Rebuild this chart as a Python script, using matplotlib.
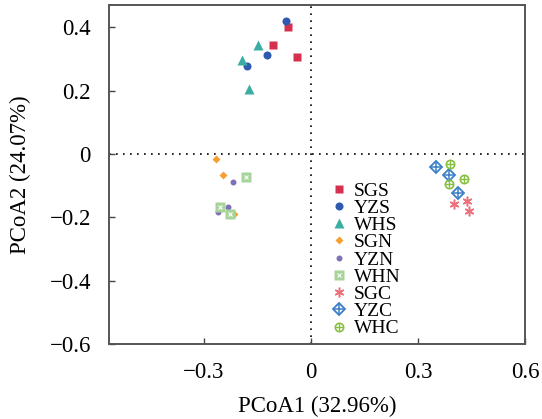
import matplotlib
matplotlib.use("Agg")
import matplotlib.pyplot as plt
from matplotlib.legend_handler import HandlerTuple

plt.rcParams['font.family'] = ['Liberation Serif', 'DejaVu Serif']

groups = ['SGS', 'YZS', 'WHS', 'SGN', 'YZN', 'WHN', 'SGC', 'YZC', 'WHC']

sgs_x = [-0.065, -0.107, -0.039]
sgs_y = [0.402, 0.345, 0.307]
yzs_x = [-0.069, -0.122, -0.179]
yzs_y = [0.419, 0.312, 0.276]
whs_x = [-0.148, -0.193, -0.174]
whs_y = [0.343, 0.295, 0.206]
sgn_x = [-0.264, -0.247, -0.214]
sgn_y = [-0.016, -0.067, -0.189]
yzn_x = [-0.217, -0.232, -0.261]
yzn_y = [-0.089, -0.166, -0.182]
whn_x = [-0.181, -0.253, -0.225]
whn_y = [-0.073, -0.168, -0.189]
sgc_x = [0.400, 0.436, 0.444]
sgc_y = [-0.159, -0.149, -0.180]
yzc_x = [0.351, 0.386, 0.412]
yzc_y = [-0.041, -0.066, -0.122]
whc_x = [0.389, 0.429, 0.388]
whc_y = [-0.031, -0.080, -0.095]

fig = plt.figure(figsize=(5.42, 4.19), dpi=100)
ax = fig.add_axes([0.201, 0.179, 0.768, 0.809])

ax.axhline(0, color='black', lw=1.2, ls=(0, (1, 3.2)), zorder=1)
ax.axvline(0, color='black', lw=1.2, ls=(0, (1, 3.2)), zorder=1)

handles = []
h = ax.plot(sgs_x, sgs_y, 's', color='#d6304f', ms=5.8, mec='none')[0]
handles.append(h)
h = ax.plot(yzs_x, yzs_y, 'o', color='#2e5bb0', ms=5.8, mec='none')[0]
handles.append(h)
h = ax.plot(whs_x, whs_y, '^', color='#3aada5', ms=6.5, mec='none')[0]
handles.append(h)
h = ax.plot(sgn_x, sgn_y, 'D', color='#f5a030', ms=3.8, mec='none')[0]
handles.append(h)
h = ax.plot(yzn_x, yzn_y, 'o', color='#8070b8', ms=4.3, mec='none')[0]
handles.append(h)
h1 = ax.plot(whn_x, whn_y, 's', color='#a6d49a', ms=6.5, mec='none')[0]
h2 = ax.plot(whn_x, whn_y, 'x', color='white', ms=3.5, mew=0.8)[0]
handles.append((h1, h2))
h = ax.plot(sgc_x, sgc_y, marker=(6, 2, 0), ls='none', color='#ec6f7a', ms=7, mew=1.1)[0]
handles.append(h)
h1 = ax.plot(yzc_x, yzc_y, 'D', mfc='none', mec='#3a7fc8', ms=6, mew=1.3, ls='none')[0]
h2 = ax.plot(yzc_x, yzc_y, '+', color='#3a7fc8', ms=7, mew=1.1)[0]
handles.append((h1, h2))
h1 = ax.plot(whc_x, whc_y, 'o', mfc='none', mec='#86c040', ms=6, mew=1.2, ls='none')[0]
h2 = ax.plot(whc_x, whc_y, '+', color='#86c040', ms=6, mew=1.0)[0]
handles.append((h1, h2))

ax.set_xlim(-0.565, 0.6)
ax.set_ylim(-0.6, 0.47)
ax.set_xticks([-0.3, 0, 0.3, 0.6])
ax.set_xticklabels(['\u22120.3', '0', '0.3', '0.6'])
ax.set_yticks([-0.6, -0.4, -0.2, 0, 0.2, 0.4])
ax.set_yticklabels(['\u22120.6', '\u22120.4', '\u22120.2', '0', '0.2', '0.4'])
ax.tick_params(direction='in', length=4, width=1, labelsize=16.5, color='#444444')
ax.tick_params(axis='x', pad=13)
ax.tick_params(axis='y', pad=13)

for s in ax.spines.values():
    s.set_color('#555555')
    s.set_linewidth(1.4)

ax.set_xlabel('PCoA1 (32.96%)', fontsize=16.5, labelpad=9)
ax.set_ylabel('PCoA2 (24.07%)', fontsize=16.5, labelpad=13)

ax.legend(handles, groups, loc='upper left', bbox_to_anchor=(0.50, 0.518),
          frameon=False, fontsize=14, handlelength=0.9, handletextpad=0.3,
          labelspacing=-0.02, borderpad=0.2,
          handler_map={tuple: HandlerTuple(ndivide=1, pad=0)})

fig.savefig('out.png', dpi=100)
